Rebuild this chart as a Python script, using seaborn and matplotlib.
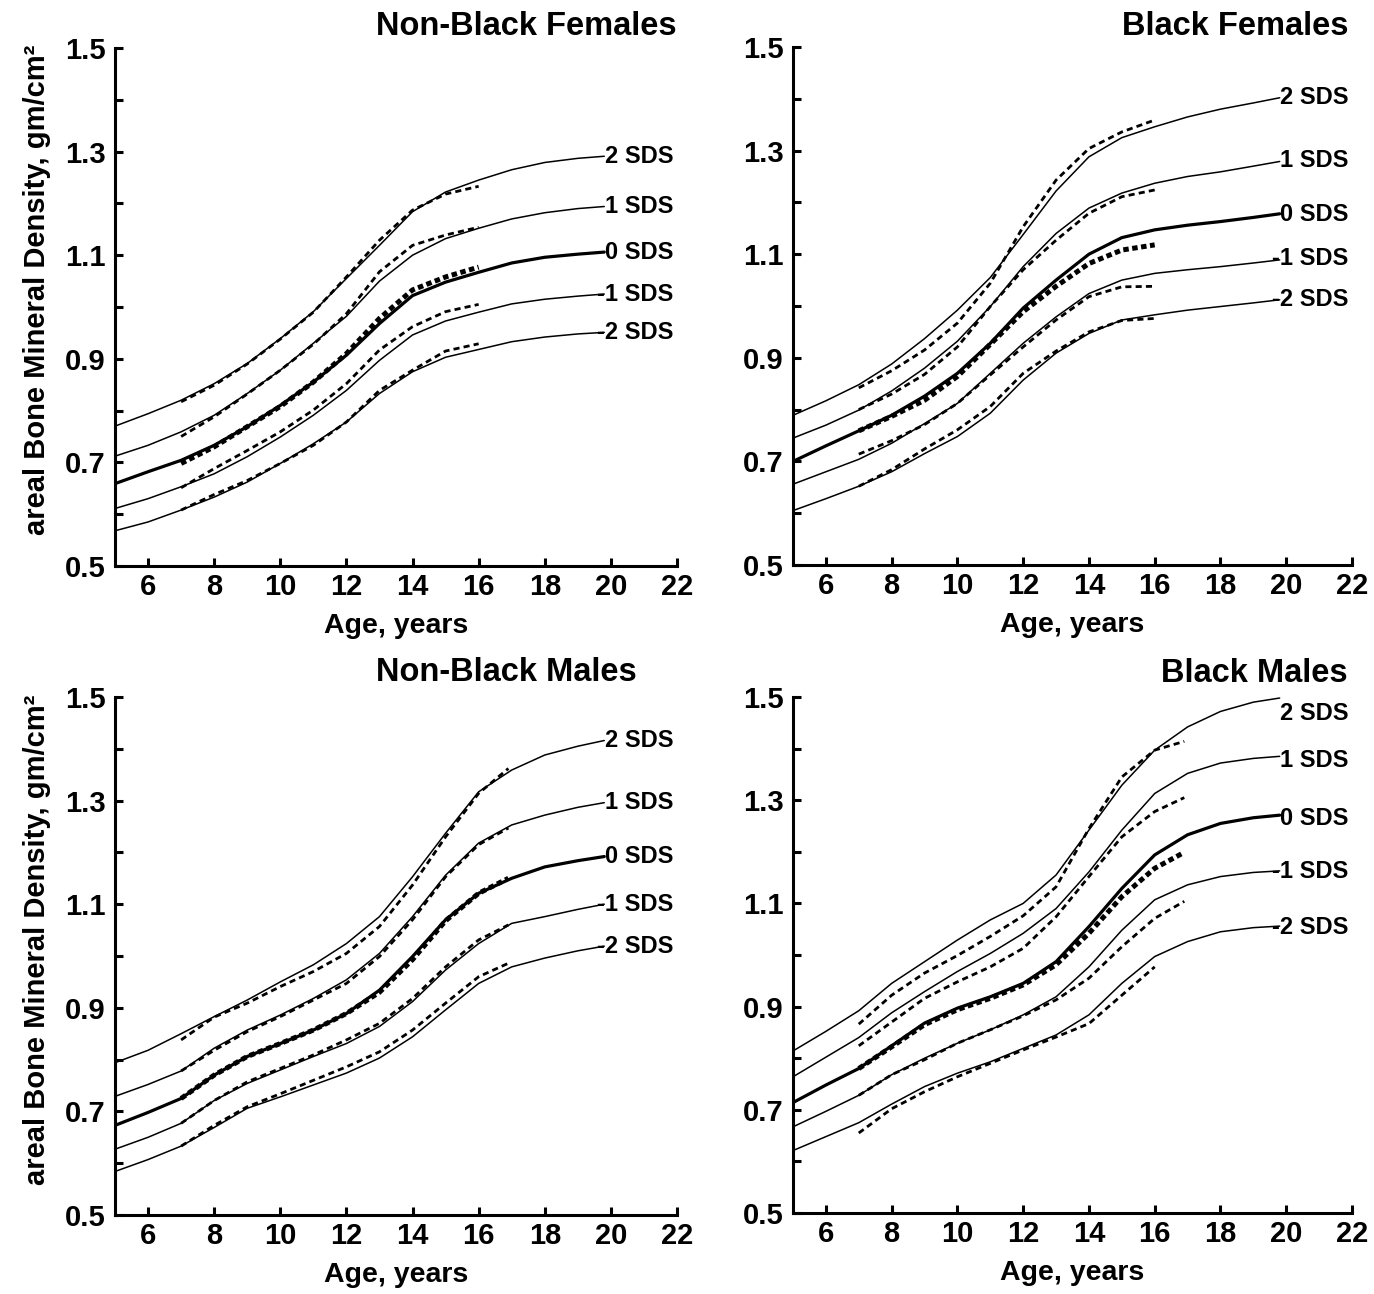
import numpy as np
import pandas as pd
import seaborn as sns
import matplotlib.pyplot as plt

# ages of the reference curves (solid) and of the observed data curves (dashed)
AGE_SOLID = [5, 6, 7, 8, 9, 10, 11, 12, 13, 14, 15, 16, 17, 18, 19, 19.8]
AGE_DASH_F = [7, 8, 9, 10, 11, 12, 13, 14, 15, 16]
AGE_DASH_M = [7, 8, 9, 10, 11, 12, 13, 14, 15, 16, 16.9]
SDS_LABELS = ["2 SDS", "1 SDS", "0 SDS", "-1 SDS", "-2 SDS"]

# Non-Black females, rows = 2, 1, 0, -1, -2 SDS
nbf_solid = [
    [0.770, 0.794, 0.820, 0.852, 0.891, 0.939, 0.991, 1.055, 1.119, 1.184, 1.222, 1.245, 1.265, 1.279, 1.287, 1.291],
    [0.712, 0.733, 0.759, 0.791, 0.833, 0.878, 0.930, 0.982, 1.050, 1.100, 1.132, 1.152, 1.170, 1.182, 1.190, 1.194],
    [0.659, 0.682, 0.704, 0.733, 0.769, 0.810, 0.855, 0.907, 0.968, 1.022, 1.048, 1.067, 1.085, 1.096, 1.102, 1.106],
    [0.611, 0.630, 0.653, 0.678, 0.711, 0.749, 0.791, 0.839, 0.897, 0.946, 0.973, 0.990, 1.006, 1.015, 1.021, 1.025],
    [0.568, 0.585, 0.608, 0.633, 0.662, 0.698, 0.736, 0.778, 0.833, 0.875, 0.903, 0.918, 0.933, 0.942, 0.948, 0.951],
]
nbf_dash = [
    [0.817, 0.849, 0.890, 0.938, 0.990, 1.058, 1.129, 1.187, 1.218, 1.233],
    [0.750, 0.788, 0.832, 0.878, 0.928, 0.987, 1.068, 1.119, 1.139, 1.154],
    [0.698, 0.730, 0.769, 0.808, 0.855, 0.910, 0.978, 1.033, 1.058, 1.077],
    [0.651, 0.688, 0.723, 0.759, 0.801, 0.852, 0.917, 0.962, 0.991, 1.005],
    [0.608, 0.638, 0.665, 0.698, 0.733, 0.778, 0.839, 0.878, 0.915, 0.929],
]
nbf_label_y = [1.291, 1.194, 1.106, 1.025, 0.951]

# Black females
bf_solid = [
    [0.789, 0.817, 0.848, 0.888, 0.937, 0.992, 1.055, 1.138, 1.222, 1.288, 1.325, 1.346, 1.365, 1.380, 1.392, 1.402],
    [0.745, 0.770, 0.799, 0.836, 0.880, 0.932, 0.999, 1.076, 1.140, 1.189, 1.218, 1.237, 1.250, 1.259, 1.270, 1.279],
    [0.700, 0.730, 0.759, 0.789, 0.826, 0.870, 0.928, 0.996, 1.050, 1.100, 1.132, 1.147, 1.156, 1.163, 1.171, 1.178],
    [0.656, 0.680, 0.704, 0.735, 0.773, 0.812, 0.870, 0.928, 0.979, 1.024, 1.050, 1.063, 1.070, 1.076, 1.083, 1.089],
    [0.605, 0.628, 0.652, 0.680, 0.715, 0.748, 0.793, 0.857, 0.909, 0.947, 0.973, 0.983, 0.992, 0.999, 1.006, 1.012],
]
bf_dash = [
    [0.842, 0.875, 0.915, 0.967, 1.044, 1.153, 1.243, 1.304, 1.336, 1.359],
    [0.800, 0.830, 0.868, 0.921, 0.999, 1.070, 1.127, 1.179, 1.211, 1.224],
    [0.759, 0.787, 0.818, 0.864, 0.926, 0.989, 1.038, 1.082, 1.108, 1.118],
    [0.714, 0.740, 0.771, 0.812, 0.867, 0.921, 0.973, 1.018, 1.037, 1.038],
    [0.652, 0.684, 0.724, 0.761, 0.806, 0.870, 0.913, 0.950, 0.972, 0.976],
]
bf_label_y = [1.402, 1.281, 1.176, 1.091, 1.012]

# Non-Black males
nbm_solid = [
    [0.794, 0.818, 0.850, 0.883, 0.915, 0.950, 0.983, 1.024, 1.076, 1.153, 1.237, 1.317, 1.359, 1.388, 1.405, 1.416],
    [0.729, 0.752, 0.778, 0.822, 0.857, 0.886, 0.918, 0.954, 1.005, 1.076, 1.156, 1.218, 1.253, 1.272, 1.287, 1.296],
    [0.673, 0.698, 0.725, 0.770, 0.806, 0.831, 0.857, 0.889, 0.934, 0.999, 1.070, 1.121, 1.150, 1.172, 1.184, 1.192],
    [0.627, 0.650, 0.677, 0.721, 0.754, 0.780, 0.806, 0.831, 0.864, 0.912, 0.973, 1.024, 1.063, 1.076, 1.090, 1.100],
    [0.584, 0.607, 0.633, 0.669, 0.706, 0.728, 0.751, 0.774, 0.803, 0.844, 0.896, 0.947, 0.979, 0.996, 1.010, 1.019],
]
nbm_dash = [
    [0.838, 0.882, 0.909, 0.941, 0.970, 1.005, 1.057, 1.137, 1.230, 1.314, 1.362],
    [0.778, 0.818, 0.854, 0.883, 0.915, 0.947, 0.999, 1.070, 1.153, 1.215, 1.247],
    [0.725, 0.770, 0.806, 0.831, 0.857, 0.889, 0.930, 0.993, 1.068, 1.121, 1.150],
    [0.677, 0.721, 0.757, 0.783, 0.809, 0.838, 0.870, 0.918, 0.979, 1.031, 1.060],
    [0.633, 0.673, 0.709, 0.734, 0.760, 0.786, 0.815, 0.857, 0.909, 0.960, 0.986],
]
nbm_label_y = [1.416, 1.296, 1.192, 1.100, 1.019]

# Black males
bm_solid = [
    [0.814, 0.852, 0.892, 0.945, 0.987, 1.029, 1.068, 1.100, 1.155, 1.242, 1.329, 1.397, 1.442, 1.472, 1.490, 1.498],
    [0.764, 0.802, 0.840, 0.888, 0.929, 0.968, 1.003, 1.042, 1.090, 1.161, 1.242, 1.313, 1.352, 1.372, 1.381, 1.385],
    [0.714, 0.748, 0.780, 0.824, 0.868, 0.897, 0.919, 0.945, 0.987, 1.055, 1.129, 1.194, 1.233, 1.255, 1.266, 1.271],
    [0.667, 0.697, 0.728, 0.768, 0.800, 0.829, 0.855, 0.884, 0.919, 0.977, 1.048, 1.107, 1.136, 1.152, 1.160, 1.163],
    [0.621, 0.648, 0.675, 0.711, 0.745, 0.771, 0.793, 0.819, 0.845, 0.884, 0.945, 0.997, 1.026, 1.045, 1.053, 1.056],
]
bm_dash = [
    [0.866, 0.922, 0.965, 0.999, 1.036, 1.076, 1.132, 1.245, 1.345, 1.397, 1.414],
    [0.824, 0.870, 0.916, 0.948, 0.977, 1.013, 1.074, 1.152, 1.229, 1.278, 1.305],
    [0.780, 0.822, 0.865, 0.894, 0.916, 0.942, 0.981, 1.042, 1.113, 1.168, 1.199],
    [0.728, 0.768, 0.797, 0.829, 0.855, 0.882, 0.913, 0.955, 1.016, 1.071, 1.104],
    [0.655, 0.702, 0.735, 0.764, 0.790, 0.816, 0.841, 0.867, 0.922, 0.977, np.nan],
]
bm_label_y = [1.468, 1.376, 1.264, 1.162, 1.054]

W, H = 1374, 1294

sns.set_style("ticks")
plt.rcParams["font.family"] = ["Liberation Sans", "DejaVu Sans"]
plt.rcParams["font.weight"] = "bold"
plt.rcParams["axes.labelweight"] = "bold"
for key in ["text.color", "axes.labelcolor", "xtick.color", "ytick.color",
            "axes.edgecolor"]:
    plt.rcParams[key] = "black"


def px_rect(left, right, top, bottom):
    """Axes rect in figure fractions from pixel edges."""
    return [left / W, 1 - bottom / H, (right - left) / W, (bottom - top) / H]


def draw_panel(ax, title, title_x, solid, dashed, dash_age, label_y, title_dy):
    for i, vals in enumerate(solid):
        lw = 2.3 if i == 2 else 1.1
        sns.lineplot(x=AGE_SOLID, y=vals, ax=ax, color="black", linewidth=lw,
                     estimator=None, sort=False, legend=False)
    for i, vals in enumerate(dashed):
        df = pd.DataFrame({"age": dash_age, "bmd": vals}).dropna()
        if i == 2:
            ls, lw = (0, (1.1, 0.7)), 3.6
        else:
            ls, lw = (0, (2.2, 1.5)), 2.0
        sns.lineplot(data=df, x="age", y="bmd", ax=ax, color="black", linewidth=lw,
                     linestyle=ls, estimator=None, sort=False, legend=False)
    for lab, y in zip(SDS_LABELS, label_y):
        ax.text(21.9, y, lab, ha="right", va="center", fontsize=17, fontweight="bold")

    ax.set_xlim(5, 22)
    ax.set_ylim(0.5, 1.5)
    ax.set_xticks(np.arange(6, 23, 2))
    ax.set_yticks([0.5, 0.7, 0.9, 1.1, 1.3, 1.5])
    ax.set_yticks(np.arange(0.6, 1.41, 0.2), minor=True)
    ax.set_yticklabels(["0.5", "0.7", "0.9", "1.1", "1.3", "1.5"])
    ax.tick_params(axis="both", which="both", direction="in", length=6, width=2.2,
                   labelsize=21, colors="black")
    ax.tick_params(axis="y", which="both", pad=7)
    ax.tick_params(axis="x", which="both", pad=5)
    for lab in ax.get_xticklabels() + ax.get_yticklabels():
        lab.set_fontweight("bold")
    sns.despine(ax=ax)
    ax.spines["left"].set_linewidth(2.2)
    ax.spines["bottom"].set_linewidth(2.2)
    ax.set_xlabel("Age, years", fontsize=20.5, fontweight="bold", labelpad=9)
    ax.set_ylabel("")
    ax.text(title_x, 1.0 + title_dy, title, transform=ax.transAxes, ha="right",
            va="center", fontsize=23.5, fontweight="bold")


fig = plt.figure(figsize=(W / 100, H / 100), dpi=100)

ax_tl = fig.add_axes(px_rect(115, 677, 48, 566))
ax_tr = fig.add_axes(px_rect(793, 1352, 47, 565))
ax_bl = fig.add_axes(px_rect(115, 677, 697, 1215))
ax_br = fig.add_axes(px_rect(793, 1352, 697, 1213))

draw_panel(ax_tl, "Non-Black Females", 1.0, nbf_solid, nbf_dash, AGE_DASH_F, nbf_label_y, 0.042)
draw_panel(ax_tr, "Black Females", 0.993, bf_solid, bf_dash, AGE_DASH_F, bf_label_y, 0.040)
draw_panel(ax_bl, "Non-Black Males", 0.929, nbm_solid, nbm_dash, AGE_DASH_M, nbm_label_y, 0.047)
draw_panel(ax_br, "Black Males", 0.993, bm_solid, bm_dash, AGE_DASH_M, bm_label_y, 0.046)

ylab = "areal Bone Mineral Density, gm/cm\u00b2"
fig.text(37 / W, 1 - 290 / H, ylab, rotation=90, ha="center", va="center",
         fontsize=21, fontweight="bold")
fig.text(37 / W, 1 - 940 / H, ylab, rotation=90, ha="center", va="center",
         fontsize=21, fontweight="bold")

fig.savefig("out.png", dpi=100)
